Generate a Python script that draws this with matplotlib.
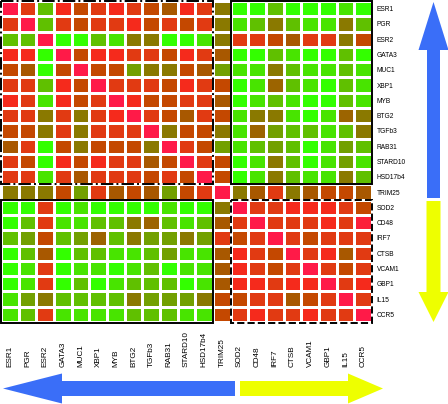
import numpy as np
import matplotlib
matplotlib.use("Agg")
from matplotlib import pyplot as plt
from matplotlib.colors import LinearSegmentedColormap
from matplotlib.patches import Rectangle, FancyArrow
import matplotlib.transforms as mtransforms

plt.rcParams['font.family'] = ['Liberation Sans', 'DejaVu Sans']

genes = ['ESR1', 'PGR', 'ESR2', 'GATA3', 'MUC1', 'XBP1', 'MYB', 'BTG2', 'TGFb3',
         'RAB31', 'STARD10', 'HSD17b4', 'TRIM25', 'SOD2', 'CD48', 'IRF7', 'CTSB',
         'VCAM1', 'GBP1', 'IL15', 'CCR5']

# correlation values (red = positive, green = negative)
corr = [
    [1.0, 0.5, -0.5, 0.7, 0.3, 0.5, 0.7, 0.5, 0.3, 0.1, 0.7, 0.5, -0.15, -0.9, -0.9, -0.5, -0.9, -0.9, -0.9, -0.7, -0.9],
    [0.5, 1.0, -0.5, 0.5, 0.3, 0.5, 0.5, 0.7, 0.3, 0.5, 0.3, 0.5, -0.15, -0.7, -0.5, -0.15, -0.5, -0.7, -0.7, -0.15, -0.5],
    [-0.5, -0.5, 1.0, -0.9, -0.9, -0.5, -0.7, -0.15, -0.15, -0.9, -0.9, -0.7, -0.15, 0.5, 0.5, 0.3, 0.1, 0.5, 0.5, -0.15, 0.3],
    [0.7, 0.7, -0.9, 1.0, 0.3, 0.7, 0.7, 0.5, 0.5, 0.3, 0.7, 0.5, 0.1, -0.9, -0.9, -0.5, -0.7, -0.9, -0.9, -0.5, -0.9],
    [0.3, 0.1, -0.9, 0.3, 1.0, 0.3, 0.3, -0.35, -0.15, -0.15, 0.3, 0.1, -0.35, -0.7, -0.7, -0.15, -0.5, -0.7, -0.7, -0.5, -0.7],
    [0.5, 0.5, -0.5, 0.7, 0.3, 1.0, 0.5, 0.5, 0.5, 0.3, 0.7, 0.5, 0.3, -0.9, -0.7, 0.0, -0.5, -0.7, -0.9, -0.5, -0.7],
    [0.7, 0.5, -0.7, 0.7, 0.3, 0.5, 1.0, 0.7, 0.3, 0.3, 0.5, 0.5, 0.1, -0.9, -0.7, -0.5, -0.7, -0.9, -0.9, -0.5, -0.7],
    [0.5, 0.5, -0.15, 0.5, -0.15, 0.5, 0.7, 1.0, 0.5, 0.3, 0.1, 0.5, 0.3, -0.7, -0.15, -0.15, -0.7, -0.9, -0.7, 0.0, -0.15],
    [0.3, 0.3, -0.15, 0.5, -0.15, 0.5, 0.5, 0.5, 1.0, -0.15, 0.3, 0.3, -0.15, -0.7, 0.0, -0.35, -0.5, -0.5, -0.7, -0.5, -0.15],
    [0.1, 0.5, -0.9, 0.3, -0.15, 0.3, 0.3, 0.3, -0.15, 1.0, 0.5, 0.3, -0.35, -0.7, -0.5, -0.35, -0.5, -0.9, -0.7, -0.35, -0.5],
    [0.5, 0.3, -0.9, 0.7, 0.3, 0.7, 0.5, 0.5, 0.1, 0.3, 1.0, 0.5, 0.3, -0.9, -0.7, -0.15, -0.5, -0.9, -0.7, -0.35, -0.7],
    [0.5, 0.5, -0.7, 0.5, 0.1, 0.5, 0.5, 0.5, 0.3, 0.5, 0.3, 1.0, 0.3, -0.9, -0.7, -0.15, -0.5, -0.7, -0.7, -0.15, -0.5],
    [-0.15, -0.15, -0.15, 0.3, -0.35, 0.5, 0.1, 0.3, 0.1, -0.35, 0.3, 0.5, 1.0, -0.15, 0.1, 0.5, -0.15, 0.1, 0.3, 0.3, 0.1],
    [-0.9, -0.9, 0.5, -0.9, -0.7, -0.9, -0.9, -0.9, -0.9, -0.7, -0.9, -0.9, -0.15, 1.0, 0.5, 0.5, 0.7, 0.7, 0.7, 0.5, 0.3],
    [-0.9, -0.5, 0.5, -0.7, -0.7, -0.5, -0.5, -0.15, 0.0, -0.5, -0.7, -0.5, 0.1, 0.5, 1.0, 0.5, 0.5, 0.5, 0.7, 0.5, 0.9],
    [-0.5, -0.35, 0.3, -0.5, -0.35, 0.0, -0.5, -0.15, -0.35, -0.35, -0.15, -0.35, 0.5, 0.3, 0.5, 1.0, 0.5, 0.3, 0.5, 0.5, 0.5],
    [-0.9, -0.5, 0.1, -0.9, -0.5, -0.5, -0.7, -0.7, -0.5, -0.35, -0.7, -0.7, 0.1, 0.7, 0.5, 0.3, 1.0, 0.5, 0.7, 0.1, 0.5],
    [-0.9, -0.7, 0.5, -0.9, -0.7, -0.7, -0.9, -0.7, -0.5, -0.9, -0.7, -0.7, 0.1, 0.7, 0.5, 0.3, 0.5, 1.0, 0.5, 0.3, 0.5],
    [-0.9, -0.7, 0.5, -0.9, -0.5, -0.9, -0.7, -0.5, -0.5, -0.5, -0.9, -0.7, 0.1, 0.7, 0.7, 0.5, 0.7, 0.7, 1.0, 0.5, 0.7],
    [-0.7, -0.35, -0.15, -0.5, -0.5, -0.5, -0.5, -0.15, -0.35, -0.35, -0.35, -0.15, 0.3, 0.3, 0.5, 0.5, 0.1, 0.3, 0.5, 1.0, 0.5],
    [-0.7, -0.5, 0.5, -0.7, -0.7, -0.7, -0.7, -0.5, -0.5, -0.5, -0.7, -0.7, 0.3, 0.5, 0.7, 0.5, 0.5, 0.7, 0.5, 0.5, 1.0],
]

# green -> olive -> brown -> red colour scale
cmap = LinearSegmentedColormap.from_list('rg', [
    (0.0, '#30ff00'), (0.05, '#33ff00'), (0.15, '#48e400'), (0.25, '#60c000'),
    (0.325, '#72a000'), (0.425, '#8a7800'), (0.55, '#a85800'), (0.65, '#c44800'),
    (0.75, '#e03a12'), (0.85, '#f52a1c'), (1.0, '#ff1a48')])

W, H = 448, 404
fig = plt.figure(figsize=(W / 100, H / 100), dpi=100)
ax = fig.add_axes([1 / W, (H - 322) / H, 371 / W, 321 / H])

vals = np.array(corr)
n = len(genes)
ax.pcolormesh(np.arange(n + 1), np.arange(n + 1), vals, cmap=cmap, vmin=-1, vmax=1,
              edgecolors='white', linewidth=0.9)
ax.set_xlim(0, n)
ax.set_ylim(n, 0)
for s in ax.spines.values():
    s.set_visible(False)

ax.set_xticks([])
ax.set_yticks(np.arange(n) + 0.5)
ax.set_yticklabels(genes)
ax.yaxis.tick_right()
ax.tick_params(axis='y', length=0, pad=3.5, labelsize=4.8)

trans = mtransforms.blended_transform_factory(ax.transData, ax.transAxes)
for i, g in enumerate(genes):
    ax.text(i + 0.5, -0.139, g, transform=trans, rotation=90, ha='center',
            va='bottom', fontsize=5.9)

# block outlines
blocks = [((0, 0), 12, 12, '-.'), ((13, 0), 8, 12, '-'),
          ((0, 13), 12, 8.05, '-'), ((13, 13), 8, 8.05, '--')]
for (x0, y0), w, h, ls in blocks:
    ax.add_patch(Rectangle((x0, y0), w, h, fill=False, ec='black', lw=1.4,
                           ls=ls, clip_on=False, zorder=5))

# arrows in pixel space
ov = fig.add_axes([0, 0, 1, 1], zorder=10)
ov.set_xlim(0, W)
ov.set_ylim(H, 0)
ov.axis('off')
blue = '#3a6ef8'
yellow = '#eeff00'
ov.add_patch(FancyArrow(433.5, 198, 0, -196, width=13, head_width=30, head_length=48,
                        length_includes_head=True, color=blue, lw=0))
ov.add_patch(FancyArrow(433.5, 201, 0, 121, width=14, head_width=30, head_length=30,
                        length_includes_head=True, color=yellow, lw=0))
ov.add_patch(FancyArrow(235, 388.5, -232, 0, width=15, head_width=30, head_length=59,
                        length_includes_head=True, color=blue, lw=0))
ov.add_patch(FancyArrow(240, 388.5, 143, 0, width=15, head_width=30, head_length=35,
                        length_includes_head=True, color=yellow, lw=0))

fig.savefig('out.png', dpi=100)
